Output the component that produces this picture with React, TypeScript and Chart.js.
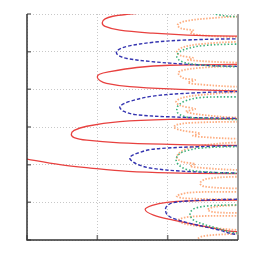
import React, { useEffect, useRef } from 'react';
import { Chart, registerables } from 'chart.js';

Chart.register(...registerables);

const xTicks = [0, 1, 2, 3];
const yTicks = [0, 1, 2, 3, 4, 5, 6];

// red (solid)
const redX = [
  1.96, 1.42, 1.22, 1.11, 1.07, 1.11, 1.32, 1.79, 2.28, 2.99, 5,
  5, 2.98, 2.03, 1.56, 1.18, 1.03, 1.0, 1.04, 1.13, 1.46, 2.03, 2.98, 5,
  5, 2.98, 2.03, 1.32, 0.85, 0.67, 0.63, 0.67, 0.85, 1.32, 2.03, 2.98, 5,
  null,
  -0.95, -0.38, 0.0, 0.47, 0.9, 1.44, 2.03, 2.99, 5,
  5, 2.99, 2.32, 1.99, 1.78, 1.68, 1.8, 2.08, 2.56, 2.98, 5,
];
const redY = [
  6.08, 5.99, 5.94, 5.87, 5.77, 5.67, 5.57, 5.49, 5.44, 5.41, 5.39,
  4.69, 4.66, 4.64, 4.58, 4.47, 4.4, 4.32, 4.23, 4.16, 4.07, 4.01, 3.96, 3.95,
  3.23, 3.22, 3.2, 3.14, 3.02, 2.91, 2.81, 2.72, 2.65, 2.58, 2.54, 2.51, 2.5,
  null,
  2.57, 2.28, 2.15, 2.0, 1.91, 1.82, 1.78, 1.76, 1.74,
  1.07, 1.06, 1.04, 1.0, 0.92, 0.81, 0.66, 0.53, 0.35, 0.22, 0.16,
];

// blue (dashed)
const blueX = [
  5, 2.98, 2.27, 1.8, 1.42, 1.29, 1.27, 1.3, 1.42, 1.75, 2.32, 2.98, 5,
  5, 2.98, 2.32, 1.79, 1.46, 1.34, 1.32, 1.37, 1.54, 2.03, 2.98, 5,
  5, 2.98, 2.32, 1.99, 1.75, 1.61, 1.49, 1.46, 1.51, 1.61, 1.75, 2.18, 2.98, 5,
  5, 2.98, 2.32, 2.06, 1.98, 1.97, 2.0, 2.1, 2.32, 2.7, 2.98, 5,
];
const blueY = [
  5.35, 5.34, 5.31, 5.25, 5.14, 5.04, 4.98, 4.9, 4.82, 4.74, 4.66, 4.61, 4.6,
  3.95, 3.94, 3.9, 3.82, 3.68, 3.58, 3.52, 3.42, 3.33, 3.27, 3.23, 3.21,
  2.51, 2.5, 2.47, 2.44, 2.4, 2.33, 2.24, 2.17, 2.07, 1.98, 1.91, 1.83, 1.78, 1.77,
  1.09, 1.08, 1.04, 0.98, 0.88, 0.77, 0.66, 0.56, 0.44, 0.28, 0.15, 0.05,
];

// green (dotted)
const greenX = [
  2.45, 2.7, 2.98, 5,
  5, 2.98, 2.5, 2.26, 2.16, 2.13, 2.16, 2.26, 2.46, 2.98, 5,
  5, 2.98, 2.46, 2.25, 2.15, 2.13, 2.15, 2.26, 2.53, 2.98, 5,
  5, 2.98, 2.46, 2.25, 2.15, 2.12, 2.16, 2.26, 2.46, 2.98, 5,
  5, 2.98, 2.6, 2.4, 2.33, 2.32, 2.36, 2.46, 2.67, 2.98, 5,
];
const greenY = [
  6.15, 5.99, 5.93, 5.91,
  5.22, 5.2, 5.16, 5.07, 4.98, 4.87, 4.78, 4.7, 4.65, 4.6, 4.59,
  3.83, 3.8, 3.78, 3.69, 3.57, 3.46, 3.36, 3.27, 3.23, 3.2, 3.19,
  2.49, 2.48, 2.44, 2.36, 2.26, 2.12, 1.99, 1.88, 1.82, 1.77, 1.75,
  0.95, 0.93, 0.91, 0.85, 0.76, 0.66, 0.54, 0.45, 0.33, 0.19, 0.11,
];

// orange (light dotted)
const orangeX = [
  5, 3.0, 2.62, 2.25, 2.14, 2.19, 2.37, 2.32, 2.46, 3.0, 5,
  5, 3.0, 2.46, 2.22, 2.13, 2.18, 2.36, 2.29, 3.0, 5,
  5, 3.0, 2.46, 2.2, 2.15, 2.22, 2.39, 2.29, 2.46, 3.0, 5,
  5, 3.0, 2.46, 2.2, 2.12, 2.18, 2.39, 2.26, 2.46, 3.0, 5,
  5, 3.0, 2.32, 2.13, 2.09, 2.2, 2.46, 2.36, 2.53, 3.0, 5,
  5, 3.0, 2.46, 2.23, 2.13, 2.2, 2.39, 2.32, 2.53, 3.0, 5,
  5, 3.0, 2.55, 2.46, 2.52, 3.0, 5,
  5, 3.0, 2.32, 2.13, 2.22, 3.0, 5,
  5, 3.0, 2.66, 2.57, 2.66, 3.0, 5,
  5, 3.0, 2.32, 2.15, 2.22, 2.53, 3.0, 5,
  5, 3.0, 2.53, 2.43, 2.46,
];
const orangeY = [
  5.96, 5.93, 5.89, 5.81, 5.71, 5.62, 5.56, 5.5, 5.44, 5.39, 5.38,
  5.28, 5.26, 5.2, 5.12, 5.0, 4.9, 4.83, 4.78, 4.71, 4.7,
  4.64, 4.62, 4.57, 4.5, 4.43, 4.3, 4.25, 4.18, 4.13, 4.07, 4.06,
  3.94, 3.92, 3.85, 3.77, 3.67, 3.57, 3.48, 3.41, 3.33, 3.25, 3.24,
  3.16, 3.14, 3.11, 3.06, 2.99, 2.91, 2.83, 2.77, 2.73, 2.69, 2.68,
  2.6, 2.59, 2.5, 2.39, 2.21, 2.08, 2.02, 1.96, 1.91, 1.86, 1.84,
  1.7, 1.68, 1.62, 1.51, 1.42, 1.37, 1.35,
  1.3, 1.28, 1.26, 1.17, 1.11, 1.08, 1.06,
  0.93, 0.92, 0.88, 0.8, 0.74, 0.72, 0.7,
  0.65, 0.64, 0.62, 0.53, 0.44, 0.35, 0.27, 0.25,
  0.17, 0.16, 0.11, 0.03, -0.11,
];

function pts(xs: (number | null)[], ys: (number | null)[]) {
  return xs.map((x, i) => ({ x, y: ys[i] }));
}

export default function App() {
  const ref = useRef<HTMLCanvasElement>(null);
  useEffect(() => {
    if (!ref.current) return;
    const frame = {
      id: 'frame',
      afterDatasetsDraw(chart: any) {
        const { ctx, chartArea: a, scales } = chart;
        const xs = scales.x;
        const ys = scales.y;
        ctx.save();
        ctx.strokeStyle = '#a0a0a0';
        ctx.lineWidth = 2;
        ctx.beginPath();
        ctx.moveTo(a.right, a.top);
        ctx.lineTo(a.right, a.bottom);
        ctx.stroke();
        ctx.strokeStyle = '#777';
        ctx.lineWidth = 1.5;
        ctx.beginPath();
        yTicks.forEach((v) => {
          const p = ys.getPixelForValue(v);
          ctx.moveTo(a.left, p);
          ctx.lineTo(a.left + 4, p);
        });
        xTicks.forEach((v) => {
          const p = xs.getPixelForValue(v);
          ctx.moveTo(p, a.bottom);
          ctx.lineTo(p, a.bottom - 5);
        });
        ctx.stroke();
        ctx.strokeStyle = '#333';
        ctx.lineWidth = 1.5;
        ctx.beginPath();
        ctx.moveTo(a.left, a.top);
        ctx.lineTo(a.left, a.bottom);
        ctx.lineTo(a.right, a.bottom);
        ctx.stroke();
        ctx.restore();
      },
    };
    const common = { showLine: true, pointRadius: 0, tension: 0.35, spanGaps: false, fill: false };
    const chart = new Chart(ref.current, {
      type: 'scatter',
      data: {
        datasets: [
          { ...common, data: pts(greenX, greenY), borderColor: '#3db27c', borderWidth: 1.6, borderDash: [1.5, 2] },
          { ...common, data: pts(blueX, blueY), borderColor: '#3434b0', borderWidth: 1.4, borderDash: [3.5, 2] },
          { ...common, data: pts(redX, redY), borderColor: '#e8413f', borderWidth: 1.3 },
          { ...common, data: pts(orangeX, orangeY), borderColor: '#fdad80', borderWidth: 1.8, borderDash: [1.5, 1.5] },
        ] as any,
      },
      options: {
        animation: false,
        responsive: false,
        events: [],
        layout: { padding: { left: 27, right: 18, top: 14, bottom: 16 } },
        elements: { line: { capBezierPoints: false } },
        plugins: { legend: { display: false }, tooltip: { enabled: false } },
        scales: {
          x: {
            type: 'linear',
            min: 0,
            max: 3,
            ticks: { display: false, stepSize: 1 },
            grid: { color: '#c8c8c8', lineWidth: 1, drawTicks: false },
            border: { display: false, dash: [1, 2] },
          },
          y: {
            type: 'linear',
            min: 0,
            max: 6,
            ticks: { display: false, stepSize: 1 },
            grid: { color: '#c8c8c8', lineWidth: 1, drawTicks: false },
            border: { display: false, dash: [1, 2] },
          },
        },
      } as any,
      plugins: [frame],
    });
    return () => chart.destroy();
  }, []);
  return (
    <div style={{ position: 'absolute', left: 0, top: 0, width: 256, height: 256, background: '#fff' }}>
      <canvas ref={ref} width={256} height={256} style={{ display: 'block' }} />
    </div>
  );
}
